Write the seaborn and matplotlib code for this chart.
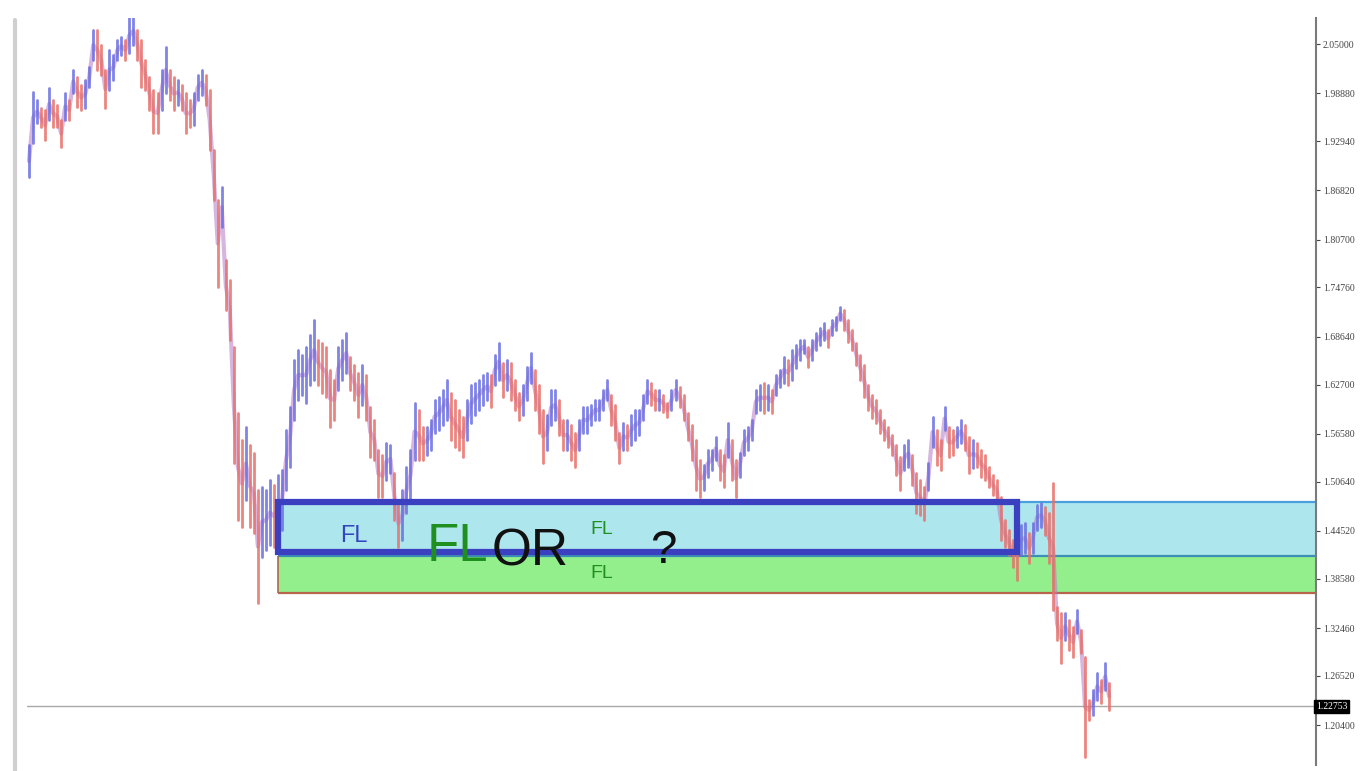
import numpy as np
import pandas as pd
import matplotlib.pyplot as plt
import seaborn as sns
from matplotlib.patches import Rectangle
from matplotlib.lines import Line2D

# bar highs / lows (one value per bar, left to right)
bar_high = [
    1.9245, 1.9903, 1.9804, 1.9705, 1.9680, 1.9953, 1.9804, 1.9742, 1.9556, 1.9891,
    1.9804, 2.0177, 2.0090, 1.9990, 2.0052, 2.0214, 2.0673, 2.0673, 2.0487, 2.0177,
    2.0425, 2.0363, 2.0549, 2.0586, 2.0549, 2.0835, 2.0835, 2.0673, 2.0549, 2.0301,
    2.0090, 1.9928, 1.9891, 2.0177, 2.0462, 2.0177, 2.0090, 2.0052, 1.9990, 1.9891,
    1.9804, 1.9891, 2.0115, 2.0177, 2.0115, 1.9928, 1.9183, 1.8562, 1.8723, 1.7817,
    1.7568, 1.6736, 1.5917, 1.5581, 1.5743, 1.5519, 1.5420, 1.4960, 1.4998, 1.4960,
    1.5084, 1.5022, 1.5146, 1.5209, 1.5705, 1.5991, 1.6575, 1.6699, 1.6637, 1.6736,
    1.6885, 1.7072, 1.6823, 1.6786, 1.6736, 1.6451, 1.6326, 1.6736, 1.6823, 1.6910,
    1.6612, 1.6513, 1.6413, 1.6513, 1.6389, 1.5991, 1.5830, 1.5457, 1.5395, 1.5544,
    1.5519, 1.5171, 1.4836, 1.4960, 1.5246, 1.5457, 1.6041, 1.5954, 1.5743, 1.5743,
    1.5830, 1.6078, 1.6115, 1.6202, 1.6326, 1.6165, 1.6078, 1.5954, 1.5867, 1.6078,
    1.6264, 1.6289, 1.6326, 1.6389, 1.6413, 1.6389, 1.6637, 1.6786, 1.6537, 1.6575,
    1.6537, 1.6326, 1.6165, 1.6264, 1.6488, 1.6662, 1.6451, 1.6264, 1.5954, 1.5892,
    1.6202, 1.6202, 1.6078, 1.5830, 1.5830, 1.5767, 1.5668, 1.5830, 1.5991, 1.5991,
    1.6016, 1.6078, 1.6078, 1.6202, 1.6326, 1.6140, 1.6016, 1.5668, 1.5792, 1.5767,
    1.5892, 1.5954, 1.5954, 1.6140, 1.6326, 1.6289, 1.6202, 1.6202, 1.6140, 1.6041,
    1.6202, 1.6326, 1.6240, 1.6140, 1.5917, 1.5767, 1.5581, 1.5333, 1.5271, 1.5457,
    1.5457, 1.5619, 1.5457, 1.5395, 1.5792, 1.5581, 1.5333, 1.5420, 1.5705, 1.5743,
    1.5830, 1.6202, 1.6264, 1.6289, 1.6264, 1.6202, 1.6389, 1.6451, 1.6612, 1.6575,
    1.6699, 1.6761, 1.6823, 1.6823, 1.6736, 1.6823, 1.6910, 1.6972, 1.7034, 1.6947,
    1.7072, 1.7109, 1.7233, 1.7196, 1.7072, 1.6947, 1.6786, 1.6637, 1.6513, 1.6264,
    1.6140, 1.6078, 1.5954, 1.5830, 1.5743, 1.5643, 1.5519, 1.5370, 1.5519, 1.5581,
    1.5395, 1.5171, 1.5084, 1.4998, 1.5296, 1.5867, 1.5705, 1.5581, 1.5991, 1.5743,
    1.5705, 1.5743, 1.5830, 1.5767, 1.5619, 1.5581, 1.5544, 1.5457, 1.5395, 1.5246,
    1.5146, 1.5084, 1.4873, 1.4588, 1.4463, 1.4339, 1.4463, 1.4525, 1.4550, 1.4426,
    1.4550, 1.4774, 1.4799, 1.4749, 1.4675, 1.5047, 1.3507, 1.3433, 1.3433, 1.3346,
    1.3259, 1.3470, 1.3221, 1.2886, 1.2352, 1.2476, 1.2687, 1.2600, 1.2811, 1.2563,
]
bar_low = [
    1.8848, 1.9270, 1.9518, 1.9469, 1.9307, 1.9556, 1.9469, 1.9469, 1.9220, 1.9556,
    1.9556, 1.9891, 1.9717, 1.9680, 1.9705, 1.9965, 2.0301, 2.0177, 2.0115, 1.9705,
    1.9928, 2.0052, 2.0301, 2.0363, 2.0301, 2.0388, 2.0487, 2.0301, 1.9965, 1.9928,
    1.9680, 1.9394, 1.9394, 1.9680, 1.9891, 1.9804, 1.9680, 1.9742, 1.9680, 1.9394,
    1.9469, 1.9494, 1.9804, 1.9866, 1.9742, 1.9183, 1.8562, 1.7482, 1.8227, 1.7196,
    1.6823, 1.5296, 1.4588, 1.4501, 1.4836, 1.4501, 1.4426, 1.3557, 1.4128, 1.4215,
    1.4277, 1.4252, 1.4339, 1.4463, 1.4960, 1.5246, 1.5830, 1.6078, 1.6140, 1.6041,
    1.6264, 1.6326, 1.6264, 1.6165, 1.6115, 1.5743, 1.5830, 1.6202, 1.6326, 1.6413,
    1.6202, 1.6078, 1.5867, 1.6016, 1.5830, 1.5370, 1.5333, 1.4873, 1.4873, 1.5084,
    1.5171, 1.4588, 1.4252, 1.4339, 1.4674, 1.4836, 1.5333, 1.5333, 1.5333, 1.5395,
    1.5457, 1.5668, 1.5705, 1.5767, 1.5830, 1.5581, 1.5494, 1.5457, 1.5370, 1.5581,
    1.5792, 1.5892, 1.5954, 1.6016, 1.6078, 1.5991, 1.6264, 1.6326, 1.6115, 1.6202,
    1.6078, 1.5954, 1.5830, 1.5892, 1.6078, 1.6289, 1.5954, 1.5668, 1.5296, 1.5457,
    1.5767, 1.5830, 1.5643, 1.5457, 1.5457, 1.5333, 1.5246, 1.5457, 1.5668, 1.5668,
    1.5767, 1.5830, 1.5830, 1.5954, 1.6078, 1.5767, 1.5581, 1.5296, 1.5457, 1.5457,
    1.5519, 1.5581, 1.5643, 1.5830, 1.6041, 1.6016, 1.5954, 1.5954, 1.5929, 1.5867,
    1.5954, 1.6078, 1.5991, 1.5830, 1.5581, 1.5333, 1.4960, 1.4873, 1.4960, 1.5122,
    1.5209, 1.5333, 1.5084, 1.4998, 1.5370, 1.5084, 1.4873, 1.5122, 1.5395, 1.5457,
    1.5581, 1.5917, 1.5954, 1.5917, 1.5954, 1.5917, 1.6140, 1.6240, 1.6289, 1.6264,
    1.6326, 1.6475, 1.6575, 1.6662, 1.6488, 1.6575, 1.6699, 1.6761, 1.6823, 1.6736,
    1.6885, 1.6947, 1.7072, 1.6947, 1.6798, 1.6699, 1.6513, 1.6326, 1.6115, 1.5954,
    1.5854, 1.5792, 1.5668, 1.5581, 1.5494, 1.5395, 1.5146, 1.4960, 1.5209, 1.5246,
    1.5022, 1.4674, 1.4650, 1.4588, 1.4960, 1.5494, 1.5271, 1.5209, 1.5705, 1.5370,
    1.5395, 1.5494, 1.5544, 1.5457, 1.5171, 1.5233, 1.5246, 1.5122, 1.5084, 1.4998,
    1.4898, 1.4836, 1.4339, 1.4252, 1.4153, 1.4004, 1.3842, 1.4153, 1.4178, 1.4054,
    1.4178, 1.4463, 1.4501, 1.4401, 1.4054, 1.3470, 1.3097, 1.2811, 1.3097, 1.2973,
    1.2886, 1.3184, 1.2936, 1.1644, 1.2104, 1.2166, 1.2352, 1.2315, 1.2476, 1.2228,
]

price_ticks = [2.05000, 1.98880, 1.92940, 1.86820, 1.80700, 1.74760, 1.68640, 1.62700,
               1.56580, 1.50640, 1.44520, 1.38580, 1.32460, 1.26520, 1.20400]
last_price = 1.22753

# support / "FL" zones
zone_top = 1.4817
zone_mid = 1.4140
zone_low = 1.3681
box_top = 1.4817
box_bottom = 1.4190
zone_start = 62
box_end = 246

sns.set_theme(style="white")
plt.rcParams['font.family'] = ['Liberation Sans', 'DejaVu Sans']

df = pd.DataFrame({"high": bar_high, "low": bar_low})
df["bar"] = np.arange(len(df))
df["mid"] = (df["high"] + df["low"]) / 2
df["dir"] = np.where(df["mid"].diff().fillna(0) >= 0, "up", "down")
bars = df.melt(id_vars=["bar", "dir"], value_vars=["low", "high"], value_name="price")

fig = plt.figure(figsize=(13.61, 7.71), dpi=100)
ax = fig.add_axes([27 / 1361, 6 / 771, 1289 / 1361, 747 / 771])
x_max = 320.5
ax.set_xlim(-0.5, x_max)
ax.set_ylim(1.1545, 2.0823)

# zones
ax.add_patch(Rectangle((zone_start, zone_mid), x_max - zone_start, zone_top - zone_mid,
                       facecolor="#aee6ee", edgecolor="none", zorder=1))
ax.add_patch(Rectangle((zone_start, zone_low), x_max - zone_start, zone_mid - zone_low,
                       facecolor="#93ef8c", edgecolor="none", zorder=1))
ax.hlines(zone_top, zone_start, x_max, color="#4a9fe0", lw=1.6, zorder=1.5)
ax.hlines(zone_mid, zone_start, x_max, color="#3b8fb5", lw=1.6, zorder=1.5)
ax.hlines(zone_low, zone_start, x_max, color="#b5654a", lw=1.6, zorder=1.5)
ax.vlines(zone_start, zone_low, zone_mid, color="#b5654a", lw=1.2, zorder=1.5)

# price bars: a soft path joining the bars, then the bars themselves
sns.lineplot(data=df, x="bar", y="mid", color="#b57ac8", linewidth=3.0, alpha=0.55,
             legend=False, ax=ax, zorder=1.9)
sns.lineplot(data=bars, x="bar", y="price", units="bar", estimator=None, hue="dir",
             palette={"up": "#6a6ee0", "down": "#e8706a"}, linewidth=2.0, alpha=0.85,
             legend=False, sort=False, ax=ax, zorder=2)

# current price line and label
ax.axhline(last_price, color="#a8a8a8", lw=1, zorder=1.8)
ax.text(1.0, last_price, f"{last_price:.5f}", transform=ax.get_yaxis_transform(),
        ha="left", va="center", color="white", fontsize=7, family="Liberation Serif",
        bbox=dict(boxstyle="square,pad=0.2", fc="black", ec="black"), clip_on=False, zorder=5)

# blue highlight box
ax.add_patch(Rectangle((zone_start, box_bottom), box_end - zone_start, box_top - box_bottom,
                       fill=False, edgecolor="#3a40c0", lw=4.5, zorder=3))

# annotations
ax.text(80.9, 1.4389, "FL", color="#3346c0", fontsize=17, ha="center", va="center", zorder=4)
ax.text(106.6, 1.4250, "FL", color="#1f8f1f", fontsize=38, ha="center", va="center", zorder=4)
ax.text(124.8, 1.4195, "OR", color="#111111", fontsize=37, ha="center", va="center", zorder=4)
ax.text(142.7, 1.4476, "FL", color="#1f8f1f", fontsize=14, ha="center", va="center", zorder=4)
ax.text(142.7, 1.3929, "FL", color="#1f8f1f", fontsize=14, ha="center", va="center", zorder=4)
ax.text(157.9, 1.4203, "?", color="#111111", fontsize=34, ha="center", va="center", zorder=4)

# axes styling
ax.yaxis.tick_right()
ax.set_yticks(price_ticks)
ax.set_yticklabels([f"{v:.5f}" for v in price_ticks], family="Liberation Serif")
ax.tick_params(axis="y", right=True, length=3, width=0.8, colors="#444444", labelsize=7, pad=2)
ax.set_xticks([])
ax.set_xlabel("")
ax.set_ylabel("")
for side in ["left", "top", "bottom"]:
    ax.spines[side].set_visible(False)
ax.spines["right"].set_color("#7a7a7a")
ax.spines["right"].set_linewidth(1.5)

# left frame edge
fig.add_artist(Line2D([15 / 1361, 15 / 1361], [0, 1 - 20 / 771], transform=fig.transFigure,
                      color="#cfcfcf", lw=3))

fig.savefig("out.png", dpi=100)
